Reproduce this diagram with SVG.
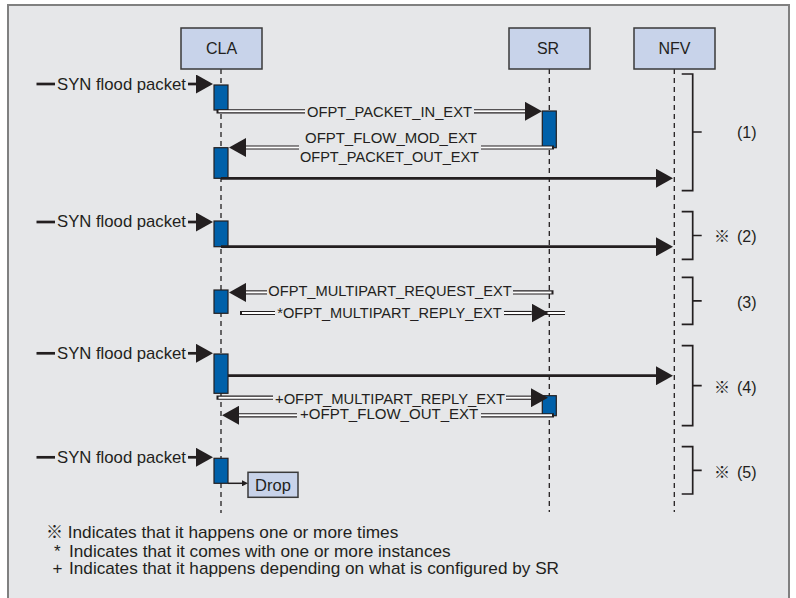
<svg xmlns="http://www.w3.org/2000/svg" width="796" height="598" viewBox="0 0 796 598">
<style>
.frame{fill:#e6e7e9;stroke:#808080;stroke-width:2}
.hdr{fill:#c8d3ea;stroke:#3a3a3a;stroke-width:1.5}
.life{stroke:#231f20;stroke-width:1.3;stroke-dasharray:5 4;fill:none}
.act{fill:#0060a9;stroke:#231f20;stroke-width:1.2}
.solid{stroke:#231f20;stroke-width:2.7;fill:none}
.po{stroke:#231f20;stroke-width:4.2;fill:none}
.pi{stroke:#ffffff;stroke-width:2;fill:none}
.thin{stroke:#231f20;stroke-width:1.5;fill:none}
.brk{stroke:#231f20;stroke-width:1.7;fill:none}
text{fill:#231f20;font-family:"Liberation Sans","Noto Sans CJK JP",Arial,sans-serif}
.t17{font-size:17px}
.lab{font-size:15.5px}
.h{font-size:16px;text-anchor:middle}
.g{font-size:16px}
</style>
<defs>
<marker id="ah" markerUnits="userSpaceOnUse" markerWidth="17" markerHeight="19" viewBox="0 0 17 19" refX="0" refY="9.5" orient="auto">
<path d="M0,0 L17,9.5 L0,19 Z" fill="#231f20"/>
</marker>
<marker id="sa" markerUnits="userSpaceOnUse" markerWidth="6" markerHeight="6" viewBox="0 0 6 6" refX="0" refY="3" orient="auto">
<path d="M0,0 L6,3 L0,6 Z" fill="#231f20"/>
</marker>
</defs>

<rect class="frame" x="8" y="5" width="781" height="600"/>

<g id="CLA">
<line class="life" x1="221" y1="69" x2="221" y2="513"/>
<rect class="hdr" x="181" y="28" width="81" height="41"/>
<text class="h" x="221.5" y="54">CLA</text>
<rect class="act" x="214" y="85" width="14" height="25"/>
<rect class="act" x="214" y="147.7" width="14" height="30.6"/>
<rect class="act" x="214" y="221" width="14" height="25.7"/>
<rect class="act" x="214" y="290" width="14" height="23.3"/>
<rect class="act" x="214" y="354" width="14" height="39.3"/>
<rect class="act" x="214" y="458.3" width="14" height="25"/>
</g>

<g id="SR">
<line class="life" x1="549.3" y1="69" x2="549.3" y2="512"/>
<rect class="hdr" x="509" y="28" width="81" height="41"/>
<text class="h" x="548" y="54">SR</text>
<rect class="act" x="542.3" y="111" width="14" height="36.7"/>
<rect class="act" x="542.3" y="395.7" width="14" height="20"/>
</g>

<g id="NFV">
<line class="life" x1="674.3" y1="69" x2="674.3" y2="512"/>
<rect class="hdr" x="634" y="28" width="81" height="41"/>
<text class="h" x="674.5" y="54">NFV</text>
</g>

<g id="Drop">
<rect class="hdr" x="248" y="472.3" width="50" height="25"/>
<text class="h" x="273" y="490.7" style="font-size:16.5px">Drop</text>
</g>

<g id="connectors">
<!-- SYN flood packet inputs -->
<g id="syn1">
<line class="solid" x1="36.5" y1="84" x2="55" y2="84"/>
<text class="t17" x="57" y="90" textLength="129" lengthAdjust="spacingAndGlyphs">SYN flood packet</text>
<path class="solid" d="M188,84 H196" marker-end="url(#ah)"/>
</g>
<g id="syn2">
<line class="solid" x1="36.5" y1="222" x2="55" y2="222"/>
<text class="t17" x="57" y="227" textLength="129" lengthAdjust="spacingAndGlyphs">SYN flood packet</text>
<path class="solid" d="M188,222 H196" marker-end="url(#ah)"/>
</g>
<g id="syn3">
<line class="solid" x1="36.5" y1="353.3" x2="55" y2="353.3"/>
<text class="t17" x="57" y="359" textLength="129" lengthAdjust="spacingAndGlyphs">SYN flood packet</text>
<path class="solid" d="M188,353.3 H196" marker-end="url(#ah)"/>
</g>
<g id="syn4">
<line class="solid" x1="36.5" y1="457.3" x2="55" y2="457.3"/>
<text class="t17" x="57" y="463" textLength="129" lengthAdjust="spacingAndGlyphs">SYN flood packet</text>
<path class="solid" d="M188,457.3 H196" marker-end="url(#ah)"/>
</g>

<!-- OFPT_PACKET_IN_EXT -->
<g id="m-packet-in">
<path class="po" d="M216.5,111.3 H305"/><path class="pi" d="M218.5,111.3 H305"/>
<text class="lab" x="307" y="116.7" textLength="165" lengthAdjust="spacingAndGlyphs">OFPT_PACKET_IN_EXT</text>
<path class="po" d="M474,111.3 H525" marker-end="url(#ah)"/><path class="pi" d="M474,111.3 H525"/>
</g>

<!-- OFPT_FLOW_MOD_EXT / OFPT_PACKET_OUT_EXT -->
<g id="m-flow-mod">
<path class="po" d="M554,147.5 H481"/><path class="pi" d="M552,147.5 H481"/>
<text class="lab" x="305" y="143.3" textLength="172" lengthAdjust="spacingAndGlyphs">OFPT_FLOW_MOD_EXT</text>
<text class="lab" x="300" y="161.7" textLength="179" lengthAdjust="spacingAndGlyphs">OFPT_PACKET_OUT_EXT</text>
<path class="po" d="M299,147.5 H246" marker-end="url(#ah)"/><path class="pi" d="M299,147.5 H246"/>
</g>

<path id="m-nfv1" class="solid" d="M221,178.3 H656" marker-end="url(#ah)"/>
<path id="m-nfv2" class="solid" d="M221,246.7 H656" marker-end="url(#ah)"/>

<!-- OFPT_MULTIPART_REQUEST_EXT -->
<g id="m-mp-req">
<path class="po" d="M553.5,292.4 H513"/><path class="pi" d="M551.5,292.4 H513"/>
<text class="lab" x="268.3" y="296" textLength="243.4" lengthAdjust="spacingAndGlyphs">OFPT_MULTIPART_REQUEST_EXT</text>
<path class="po" d="M267,292.4 H246" marker-end="url(#ah)"/><path class="pi" d="M267,292.4 H246"/>
</g>

<!-- *OFPT_MULTIPART_REPLY_EXT -->
<g id="m-mp-rep">
<path class="po" d="M240,313 H275"/><path class="pi" d="M242,313 H275"/>
<text class="lab" x="277.3" y="318.3" textLength="224.4" lengthAdjust="spacingAndGlyphs">*OFPT_MULTIPART_REPLY_EXT</text>
<path class="po" d="M531.5,313 H565"/><path class="pi" d="M531.5,313 H565"/>
<path class="po" d="M504,313 H531.5" marker-end="url(#ah)"/><path class="pi" d="M504,313 H531.5"/>
</g>

<path id="m-nfv3" class="solid" d="M228,375.7 H656" marker-end="url(#ah)"/>

<!-- +OFPT_MULTIPART_REPLY_EXT -->
<g id="m-mp-rep2">
<path class="po" d="M216.5,397.7 H273"/><path class="pi" d="M218.5,397.7 H273"/>
<text class="lab" x="275" y="404" textLength="230" lengthAdjust="spacingAndGlyphs">+OFPT_MULTIPART_REPLY_EXT</text>
<path class="po" d="M506,397.7 H531" marker-end="url(#ah)"/><path class="pi" d="M506,397.7 H531"/>
</g>

<!-- +OFPT_FLOW_OUT_EXT -->
<g id="m-flow-out">
<path class="po" d="M554,415.3 H481"/><path class="pi" d="M552,415.3 H481"/>
<text class="lab" x="300" y="419" textLength="178.3" lengthAdjust="spacingAndGlyphs">+OFPT_FLOW_OUT_EXT</text>
<path class="po" d="M297,415.3 H239" marker-end="url(#ah)"/><path class="pi" d="M297,415.3 H239"/>
</g>

<path id="m-drop" class="thin" d="M228,483.3 H242" marker-end="url(#sa)"/>
</g>

<g id="brackets">
<path class="brk" d="M681.7,74 H692.7 V190.7 H681.7 M692.7,132 H701.7"/>
<text class="g" x="737" y="138.3">(1)</text>
<path class="brk" d="M681.7,211.7 H692.7 V259.3 H681.7 M692.7,235.5 H701.7"/>
<text class="g" y="242.3"><tspan x="714">※</tspan><tspan x="737">(2)</tspan></text>
<path class="brk" d="M681.7,277.3 H692.7 V324.3 H681.7 M692.7,300.8 H701.7"/>
<text class="g" x="737" y="308.3">(3)</text>
<path class="brk" d="M681.7,345.7 H692.7 V425.7 H681.7 M692.7,385.7 H701.7"/>
<text class="g" y="392.7"><tspan x="714">※</tspan><tspan x="737">(4)</tspan></text>
<path class="brk" d="M681.7,446.7 H692.7 V494 H681.7 M692.7,470.3 H701.7"/>
<text class="g" y="477.7"><tspan x="714">※</tspan><tspan x="737">(5)</tspan></text>
</g>

<g id="legend">
<text class="t17" x="46" y="538.3">※</text>
<text class="t17" x="67.7" y="538.3" textLength="330.6" lengthAdjust="spacingAndGlyphs">Indicates that it happens one or more times</text>
<text class="t17" x="54" y="556.7">*</text>
<text class="t17" x="69" y="556.7" textLength="381.7" lengthAdjust="spacingAndGlyphs">Indicates that it comes with one or more instances</text>
<text class="t17" x="52.5" y="574">+</text>
<text class="t17" x="69" y="574" textLength="490" lengthAdjust="spacingAndGlyphs">Indicates that it happens depending on what is configured by SR</text>
</g>
</svg>
